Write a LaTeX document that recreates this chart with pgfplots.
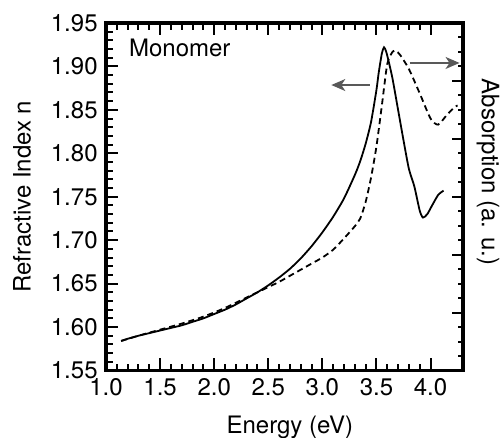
\documentclass[12pt,border=0pt]{standalone}
\usepackage{fontspec}
\setmainfont{TeX Gyre Heros}
\usepackage{pgfplots}
\pgfplotsset{compat=1.18}
\usetikzlibrary{arrows.meta}

\definecolor{arrowgray}{gray}{0.35}

\pgfplotstableread{
x      n
1.14   1.584
1.20   1.5865
1.30   1.590
1.40   1.593
1.50   1.596
1.60   1.599
1.70   1.602
1.80   1.606
1.90   1.610
2.00   1.615
2.10   1.620
2.20   1.626
2.30   1.633
2.40   1.640
2.50   1.648
2.60   1.657
2.70   1.667
2.80   1.679
2.90   1.693
3.00   1.709
3.10   1.727
3.20   1.748
3.30   1.775
3.35   1.791
3.40   1.811
3.45   1.836
3.50   1.873
3.52   1.892
3.55   1.915
3.57   1.922
3.59   1.917
3.62   1.902
3.65   1.885
3.70   1.850
3.75   1.815
3.80   1.782
3.85   1.762
3.90   1.734
3.93   1.726
3.97   1.730
4.01   1.739
4.07   1.752
4.12   1.757
}\refindex

\pgfplotstableread{
x      a
1.14   1.584
1.30   1.590
1.50   1.597
1.70   1.604
1.90   1.612
2.10   1.622
2.30   1.634
2.50   1.646
2.60   1.652
2.70   1.659
2.80   1.666
2.90   1.673
3.00   1.680
3.10   1.689
3.20   1.702
3.30   1.716
3.35   1.725
3.40   1.744
3.45   1.772
3.50   1.808
3.55   1.855
3.60   1.903
3.65   1.917
3.68   1.918
3.72   1.913
3.80   1.897
3.90   1.869
4.00   1.840
4.07   1.833
4.15   1.844
4.22   1.853
4.25   1.855
}\absorption

\begin{document}
\begin{tikzpicture}
\useasboundingbox (-53pt,-33.75pt) rectangle (199pt,185.25pt);

% left axis: refractive index
\begin{axis}[
    at={(0,0)}, anchor=south west,
    scale only axis,
    width=178.5pt, height=173.75pt,
    xmin=1.0, xmax=4.3,
    ymin=1.55, ymax=1.95,
    xtick={1.0,1.5,...,4.0},
    ytick={1.55,1.60,...,1.95},
    minor x tick num=4,
    minor y tick num=4,
    xtick pos=both, ytick pos=left,
    tick align=inside,
    major tick length=6pt,
    minor tick length=3.3pt,
    every tick/.style={black, line width=1pt},
    axis line style={line width=1.6pt},
    xticklabel style={/pgf/number format/.cd, fixed, fixed zerofill, precision=1},
    yticklabel style={/pgf/number format/.cd, fixed, fixed zerofill, precision=2},
    /pgf/number format/assume math mode=true,
    xlabel={Energy (eV)},
    ylabel={Refractive Index n},
    every axis x label/.style={at={(rel axis cs:0.515,-0.1626)}, anchor=center},
    every axis y label/.style={at={(rel axis cs:-0.235,0.5)}, rotate=90, anchor=center},
]
\addplot[black, line width=0.9pt, smooth, tension=0.4] table[x=x, y=n] {\refindex};
\addplot[black, line width=0.9pt, dash pattern=on 3pt off 2pt, smooth, tension=0.4] table[x=x, y=a] {\absorption};

\node[anchor=west, inner sep=0pt] at (axis cs:1.21,1.921) {Monomer};

\draw[arrowgray, line width=0.7pt, -{Stealth[length=7pt, width=6pt, inset=2pt]}]
    (axis cs:3.437,1.8786) -- (axis cs:3.083,1.8786);
\draw[arrowgray, line width=0.7pt, -{Stealth[length=7pt, width=6pt, inset=2pt]}]
    (axis cs:3.806,1.904) -- (axis cs:4.268,1.904);
\end{axis}

% right axis: absorption (no labels)
\begin{axis}[
    at={(0,0)}, anchor=south west,
    scale only axis,
    width=178.5pt, height=173.75pt,
    xmin=1.0, xmax=4.3,
    ymin=0, ymax=6,
    ytick={0,...,6},
    minor y tick num=3,
    yticklabels={},
    hide x axis,
    ytick pos=right,
    tick align=inside,
    major tick length=5.5pt,
    minor tick length=2.5pt,
    every tick/.style={black, line width=1pt},
    axis line style={line width=1.6pt},
    ylabel={Absorption (a. u.)},
    every axis y label/.style={at={(rel axis cs:1.07,0.571)}, rotate=-90, anchor=center},
]
\end{axis}
\end{tikzpicture}
\end{document}
